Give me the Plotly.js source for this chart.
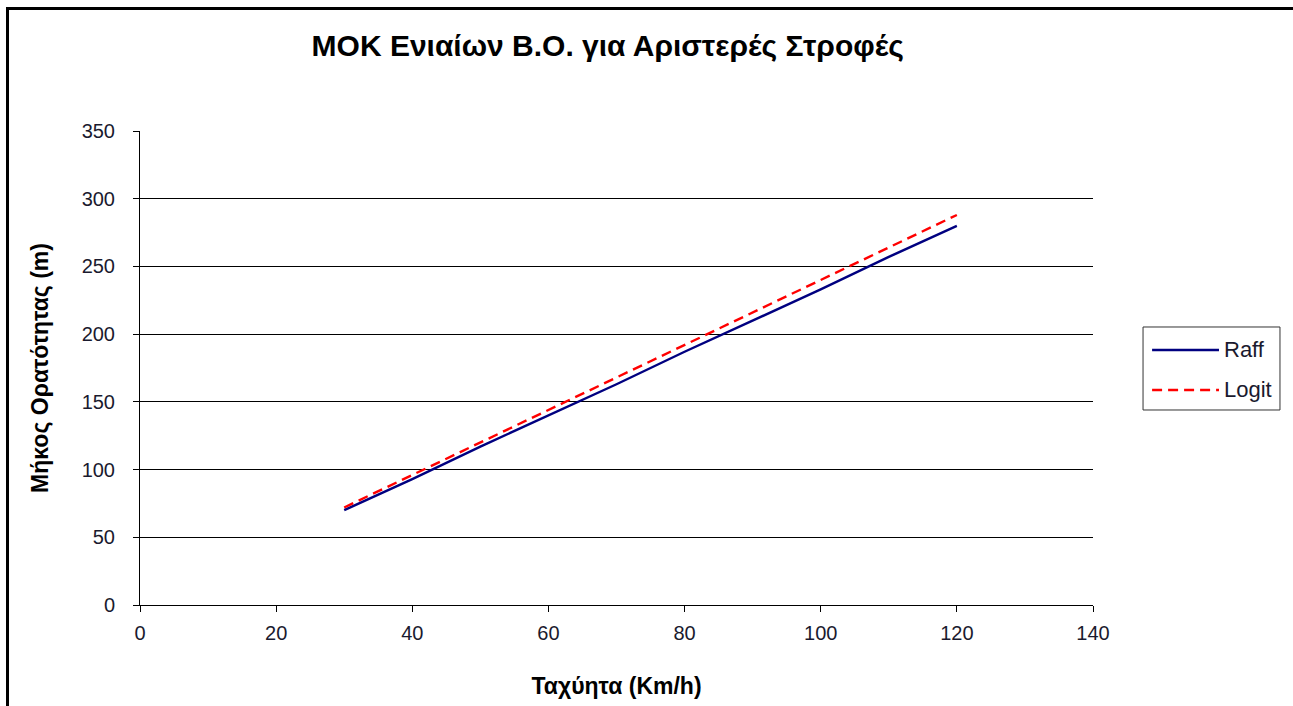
<!DOCTYPE html>
<html>
<head>
<meta charset="utf-8">
<script src="https://cdn.plot.ly/plotly-3.0.1.min.js"></script>
<style>
html,body{margin:0;padding:0;background:#fff;}
#wrap{position:relative;width:1293px;height:706px;overflow:hidden;}
#frame{position:absolute;left:6px;top:7px;width:1300px;height:720px;border-left:3px solid #000;border-top:3px solid #000;pointer-events:none;z-index:5;}
#chart{position:absolute;left:0;top:0;width:1293px;height:706px;}
</style>
</head>
<body>
<div id="wrap">
<div id="chart"></div>
<div id="frame"></div>
</div>
<script>
// Data
const speeds = [30, 40, 50, 60, 70, 80, 90, 100, 110, 120];
const raff   = [70, 93, 117, 140, 163, 187, 210, 233, 257, 280];
const logit  = [72, 96, 120, 144, 168, 192, 216, 240, 264, 288];
const yTicks = [0, 50, 100, 150, 200, 250, 300, 350];
const xTicks = [0, 20, 40, 60, 80, 100, 120, 140];
const seriesNames = ['Raff', 'Logit'];
const seriesColors = ['#000080', '#ff0000'];
const seriesDash = ['solid', '10px,6px'];

const font = 'Liberation Sans, Arial, sans-serif';

const traces = [
  {x: speeds, y: raff, name: seriesNames[0], mode: 'lines', type: 'scatter',
   line: {color: seriesColors[0], width: 2.4, dash: seriesDash[0]}},
  {x: speeds, y: logit, name: seriesNames[1], mode: 'lines', type: 'scatter',
   line: {color: seriesColors[1], width: 2.4, dash: seriesDash[1]}}
];

// Manual legend (box, sample lines, labels) in paper coordinates
const legBox = {x0: 1.0525, x1: 1.1962, y0: 0.4114, y1: 0.5865};
const legRowsY = [0.538, 0.4536];
const shapes = [
  {type: 'rect', xref: 'paper', yref: 'paper', x0: legBox.x0, x1: legBox.x1, y0: legBox.y0, y1: legBox.y1,
   line: {color: '#333', width: 1}, fillcolor: '#fff'}
];
const annotations = [];
seriesNames.forEach((n, i) => {
  shapes.push({type: 'line', xref: 'paper', yref: 'paper', x0: 1.062, x1: 1.1322, y0: legRowsY[i], y1: legRowsY[i],
    line: {color: seriesColors[i], width: 2.4, dash: seriesDash[i]}});
  annotations.push({xref: 'paper', yref: 'paper', x: 1.1354, y: legRowsY[i], xanchor: 'left', yanchor: 'middle',
    text: n, showarrow: false, font: {family: font, size: 22, color: '#1a1a2e'}});
});

const layout = {
  width: 1293, height: 706,
  paper_bgcolor: '#ffffff', plot_bgcolor: '#ffffff',
  margin: {l: 140, r: 200, t: 131, b: 101},
  font: {family: font, color: '#000', size: 20},
  title: {text: '<b>ΜΟΚ Ενιαίων Β.Ο. για Αριστερές Στροφές</b>',
          font: {family: font, size: 30, color: '#000'},
          x: 0.47, xanchor: 'center', y: 0.936, yanchor: 'middle'},
  xaxis: {
    range: [0, 140], tickvals: xTicks, ticktext: xTicks.map(String),
    showgrid: false, zeroline: false,
    showline: true, linecolor: '#000', linewidth: 1,
    ticks: 'outside', ticklen: 6, tickcolor: '#000', ticklabelstandoff: 4,
    tickfont: {family: font, size: 20, color: '#1a1a2e'},
    title: {text: '<b>Ταχύητα (Km/h)</b>', font: {family: font, size: 23, color: '#000'}, standoff: 34}
  },
  yaxis: {
    range: [0, 350], tickvals: yTicks, ticktext: yTicks.map(String),
    showgrid: true, gridcolor: '#000', gridwidth: 1,
    zeroline: false,
    showline: true, linecolor: '#000', linewidth: 1,
    ticks: 'outside', ticklen: 6, tickcolor: '#000', ticklabelstandoff: 14,
    tickfont: {family: font, size: 20, color: '#1a1a2e'},
    title: {text: '<b>Μήκος Ορατότητας (m)</b>', font: {family: font, size: 23, color: '#000'}, standoff: 26}
  },
  showlegend: false,
  shapes: shapes,
  annotations: annotations
};

Plotly.newPlot('chart', traces, layout, {displayModeBar: false, staticPlot: true});
</script>
</body>
</html>
